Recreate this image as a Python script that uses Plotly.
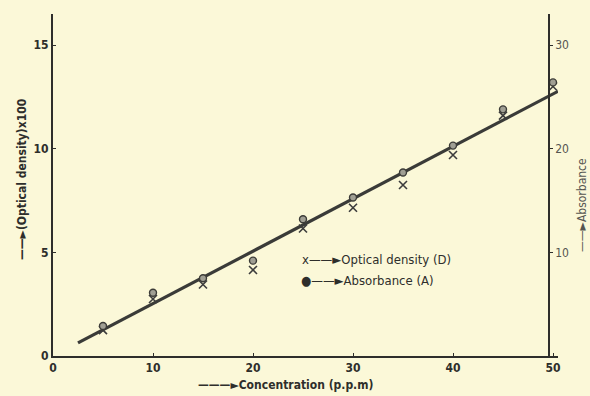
import plotly.graph_objects as go

# Data
concentration = [5, 10, 15, 20, 25, 30, 35, 40, 45, 50]
optical_density_x100 = [1.25, 2.75, 3.45, 4.15, 6.15, 7.15, 8.25, 9.7, 11.6, 13.0]
absorbance = [2.9, 6.1, 7.5, 9.2, 13.2, 15.3, 17.7, 20.3, 23.8, 26.4]
fit_x = [2.5, 50.5]
fit_y = [0.63, 12.77]

left_ticks = [0, 5, 10, 15]
right_ticks = [10, 20, 30]
x_ticks = [0, 10, 20, 30, 40, 50]

ink = "#2e2e2b"
paper = "#fbf8d8"
fam = "DejaVu Sans Condensed, DejaVu Sans"

fig = go.Figure()
fig.add_trace(go.Scatter(x=fit_x, y=fit_y, mode="lines",
                         line=dict(color="#3a3b38", width=3.2), showlegend=False, hoverinfo="skip"))
fig.add_trace(go.Scatter(x=concentration, y=optical_density_x100, mode="markers",
                         marker=dict(symbol="x-thin", size=8, line=dict(color="#3c3c3c", width=1.6)),
                         showlegend=False))
fig.add_trace(go.Scatter(x=concentration, y=absorbance, mode="markers", yaxis="y2",
                         marker=dict(symbol="circle", size=7, color="#a09f94",
                                     line=dict(color="#3c3c38", width=1.4)),
                         showlegend=False))

tickfont = dict(family=fam, size=12, color=ink, weight="bold")

fig.update_layout(
    width=590, height=396,
    margin=dict(l=53, r=32, t=14, b=40, autoexpand=False),
    paper_bgcolor=paper, plot_bgcolor=paper,
    xaxis=dict(range=[0, 50.5], tickvals=x_ticks, showgrid=False, zeroline=False,
               showline=True, linecolor=ink, linewidth=2, automargin=False,
               ticks="inside", ticklen=3, tickcolor=ink, tickfont=tickfont),
    yaxis=dict(range=[0, 16.5], tickvals=left_ticks, showgrid=False, zeroline=False,
               showline=True, linecolor=ink, linewidth=2, automargin=False,
               ticks="inside", ticklen=3, tickcolor=ink, tickfont=tickfont),
    yaxis2=dict(range=[0, 33], tickvals=right_ticks, overlaying="y", side="right",
                anchor="free", position=(549 - 53) / 505, automargin=False,
                showgrid=False, zeroline=False, showline=True, linecolor=ink, linewidth=1.5,
                ticks="outside", ticklen=3, tickcolor=ink,
                tickfont=dict(family=fam, size=12, color="#555550")),
    showlegend=False,
)

plot_l, plot_r, plot_t, plot_b = 53, 558, 14, 356

annots = [
    dict(text="——►(Optical density)x100", x=22, y=180, textangle=-90,
         font=dict(family=fam, size=12, color=ink, weight="bold")),
    dict(text="——►Absorbance", x=582, y=205, textangle=-90,
         font=dict(family=fam, size=12, color="#555550")),
    dict(text="———►Concentration (p.p.m)", x=285, y=385,
         font=dict(family=fam, size=12, color=ink, weight="bold")),
    dict(text="x——►Optical density (D)", x=300, y=259, xanchor="left",
         font=dict(family=fam, size=13, color=ink)),
    dict(text="●——►Absorbance (A)", x=299, y=280, xanchor="left",
         font=dict(family=fam, size=13, color=ink)),
]
for a in annots:
    fig.add_annotation(text=a["text"],
                       x=(a["x"] - plot_l) / (plot_r - plot_l),
                       y=(plot_b - a["y"]) / (plot_b - plot_t),
                       xref="paper", yref="paper", showarrow=False,
                       textangle=a.get("textangle", 0), xanchor=a.get("xanchor", "center"),
                       yanchor="middle", font=a["font"])

fig.write_html("out.html", config={"displayModeBar": False},
               post_script="document.body.style.margin='0px';document.body.style.overflow='hidden';")
